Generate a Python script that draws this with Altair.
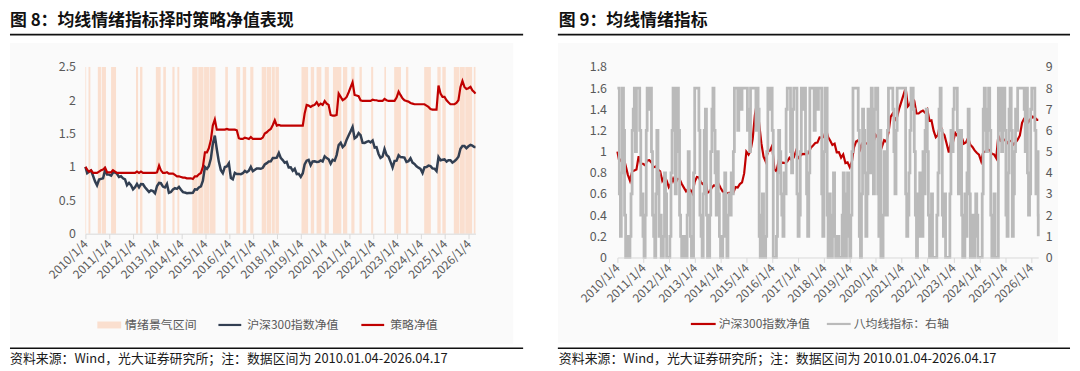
import calendar
import altair as alt
import pandas as pd

FONT = "Noto Sans CJK SC"

# ---------------- data ----------------
tick_years = list(range(2010, 2027))

# 沪深300指数净值: 2010-01-04, then month-end values 2010-01 ... 2026-03, last 2026-04-17
hs300_nav = [1.000,
    0.906, 0.928, 0.947, 0.868, 0.783, 0.725, 0.811, 0.821, 0.830, 0.956, 0.885, 0.885,
    0.870, 0.916, 0.919, 0.898, 0.851, 0.861, 0.830, 0.814, 0.725, 0.762, 0.727, 0.664,
    0.697, 0.745, 0.694, 0.743, 0.741, 0.696, 0.660, 0.624, 0.649, 0.638, 0.605, 0.714,
    0.760, 0.756, 0.706, 0.692, 0.745, 0.612, 0.624, 0.662, 0.682, 0.671, 0.700, 0.659,
    0.623, 0.616, 0.607, 0.611, 0.610, 0.612, 0.665, 0.661, 0.693, 0.709, 0.794, 0.999,
    0.971, 1.010, 1.122, 1.343, 1.470, 1.265, 1.080, 0.952, 0.906, 1.000, 1.009, 1.055,
    0.833, 0.814, 0.910, 0.893, 0.896, 0.892, 0.906, 0.941, 0.920, 0.944, 1.001, 0.937,
    0.958, 0.977, 0.978, 0.973, 0.988, 1.037, 1.057, 1.081, 1.085, 1.134, 1.133, 1.140,
    1.209, 1.138, 1.103, 1.063, 1.075, 0.993, 0.995, 0.943, 0.973, 0.892, 0.898, 0.852,
    0.906, 1.038, 1.095, 1.107, 1.027, 1.082, 1.085, 1.075, 1.079, 1.099, 1.083, 1.159,
    1.133, 1.115, 1.049, 1.107, 1.094, 1.178, 1.328, 1.362, 1.298, 1.328, 1.409, 1.474,
    1.540, 1.600, 1.428, 1.449, 1.508, 1.478, 1.361, 1.360, 1.377, 1.388, 1.367, 1.397,
    1.291, 1.296, 1.195, 1.136, 1.157, 1.269, 1.180, 1.154, 1.076, 0.992, 1.090, 1.095,
    1.176, 1.149, 1.146, 1.140, 1.075, 1.087, 1.131, 1.065, 1.044, 1.011, 0.989, 0.971,
    0.910, 0.995, 1.000, 1.020, 1.013, 0.979, 0.974, 0.939, 1.150, 1.101, 1.108, 1.113,
    1.080, 1.101, 1.100, 1.066, 1.086, 1.113, 1.153, 1.272, 1.313, 1.313, 1.280, 1.310,
    1.330, 1.320, 1.300, 1.300]

# 策略净值 (same dates)
strategy_nav = [1.000,
    0.96, 0.93, 0.95, 0.91, 0.91, 0.91, 0.93, 0.95, 0.96, 0.99, 0.92, 0.92,
    0.92, 0.95, 0.93, 0.91, 0.91, 0.91, 0.91, 0.91, 0.91, 0.91, 0.91, 0.91,
    0.91, 0.93, 0.91, 0.93, 0.91, 0.91, 0.91, 0.91, 0.91, 0.91, 0.91, 0.92,
    1.02, 0.95, 0.91, 0.91, 0.92, 0.90, 0.90, 0.90, 0.88, 0.86, 0.86, 0.85,
    0.84, 0.84, 0.83, 0.83, 0.83, 0.82, 0.86, 0.86, 0.89, 0.91, 1.00, 1.22,
    1.22, 1.28, 1.40, 1.62, 1.71, 1.56, 1.56, 1.56, 1.56, 1.56, 1.57, 1.56,
    1.56, 1.56, 1.56, 1.55, 1.43, 1.42, 1.42, 1.44, 1.43, 1.42, 1.45, 1.42,
    1.42, 1.42, 1.42, 1.42, 1.44, 1.50, 1.52, 1.55, 1.57, 1.63, 1.70, 1.62,
    1.63, 1.62, 1.62, 1.62, 1.62, 1.62, 1.62, 1.62, 1.62, 1.62, 1.62, 1.62,
    1.62, 1.80, 1.93, 1.92, 1.90, 1.92, 1.93, 1.97, 1.92, 1.95, 1.93, 1.99,
    1.95, 1.93, 1.78, 1.77, 1.77, 1.78, 2.10, 2.05, 2.00, 2.02, 2.05, 2.12,
    2.20, 2.27, 2.08, 2.07, 2.06, 2.00, 1.99, 1.99, 1.99, 1.99, 1.99, 2.01,
    2.00, 2.00, 1.99, 1.99, 1.99, 2.02, 2.00, 1.99, 1.99, 1.99, 1.99, 2.04,
    2.13, 2.08, 2.03, 2.00, 1.99, 1.98, 1.96, 1.95, 1.94, 1.94, 1.94, 1.94,
    1.94, 1.94, 1.92, 1.90, 1.87, 1.86, 1.86, 1.86, 2.22, 2.10, 2.05, 2.05,
    2.00, 1.97, 1.94, 1.94, 1.94, 1.96, 2.00, 2.20, 2.29, 2.20, 2.17, 2.18,
    2.20, 2.15, 2.12, 2.10]

# 八均线指标 (two readings per month, mid-month and month-end)
ma_signal = [
    8, 3, 1, 4, 8, 6, 2, 0, 0, 1, 0, 1, 3, 6, 7, 8, 5, 8, 8, 8, 6, 2, 3, 1,
    0, 2, 6, 8, 8, 7, 8, 5, 2, 1, 0, 3, 6, 4, 1, 2, 0, 0, 1, 4, 3, 0, 0, 0,
    1, 4, 6, 8, 8, 3, 5, 8, 6, 2, 1, 0, 0, 1, 0, 0, 2, 5, 3, 1, 0, 0, 4, 8,
    8, 8, 8, 6, 2, 1, 0, 3, 6, 7, 2, 0, 0, 2, 5, 7, 8, 6, 4, 2, 5, 3, 1, 0,
    0, 1, 3, 4, 1, 0, 2, 3, 2, 4, 3, 5, 8, 8, 8, 6, 8, 8, 7, 8, 8, 8, 8, 8,
    6, 7, 5, 8, 8, 8, 8, 8, 6, 8, 7, 1, 0, 2, 3, 0, 0, 1, 5, 8, 8, 7, 8, 6,
    0, 0, 0, 1, 4, 6, 5, 3, 2, 1, 4, 3, 7, 8, 8, 8, 5, 4, 7, 8, 8, 8, 3, 1,
    2, 5, 8, 8, 7, 8, 5, 3, 1, 4, 8, 8, 8, 8, 6, 8, 8, 7, 8, 8, 8, 3, 1, 5,
    8, 8, 2, 0, 3, 1, 0, 2, 4, 1, 0, 0, 1, 0, 0, 0, 2, 4, 0, 0, 3, 4, 1, 0,
    2, 5, 8, 8, 8, 8, 8, 6, 1, 0, 3, 7, 6, 4, 1, 3, 7, 6, 4, 8, 5, 3, 7, 8,
    8, 3, 1, 6, 0, 0, 2, 5, 4, 2, 6, 8, 8, 8, 8, 7, 5, 3, 6, 8, 8, 8, 8, 8,
    8, 8, 8, 3, 1, 2, 4, 6, 8, 8, 7, 5, 2, 0, 3, 1, 4, 2, 1, 5, 3, 6, 7, 5,
    2, 0, 1, 3, 0, 0, 0, 0, 2, 4, 7, 8, 6, 2, 1, 3, 0, 0, 0, 0, 3, 6, 5, 7,
    8, 8, 8, 6, 3, 5, 6, 2, 0, 0, 3, 1, 4, 7, 3, 0, 1, 2, 0, 1, 3, 2, 0, 0,
    0, 0, 3, 7, 8, 6, 5, 7, 8, 6, 2, 0, 1, 3, 0, 0, 0, 8, 8, 6, 5, 8, 8, 6,
    2, 1, 4, 7, 8, 6, 1, 3, 5, 7, 6, 8, 8, 8, 8, 8, 8, 7, 5, 8, 4, 2, 3, 7,
    8, 8, 8, 6, 3, 5, 2, 1]

# 情绪景气区间 (start, end)
band_start = [
    "2010-01-04", "2010-02-20", "2010-07-12", "2010-09-09", "2011-01-30",
    "2012-02-14", "2012-04-16", "2012-12-13", "2013-04-05", "2013-08-22",
    "2013-11-06", "2014-06-21", "2014-09-20", "2014-12-18", "2015-03-12",
    "2015-11-06", "2016-04-22", "2016-07-30", "2016-11-21", "2017-05-15",
    "2017-07-28", "2017-10-15", "2017-12-10", "2019-01-11", "2019-06-02",
    "2019-08-29", "2020-01-01", "2020-05-05", "2020-10-05", "2021-02-09",
    "2021-06-13", "2021-12-08", "2022-06-28", "2022-11-24", "2023-05-23",
    "2024-02-25", "2024-09-13", "2024-11-28", "2025-05-22", "2025-08-18",
    "2025-11-12", "2026-03-22"]
band_end = [
    "2010-01-15", "2010-03-20", "2010-08-29", "2010-11-13", "2011-04-16",
    "2012-03-17", "2012-05-22", "2013-02-24", "2013-05-15", "2013-09-24",
    "2013-12-05", "2014-09-10", "2014-12-10", "2015-03-05", "2015-06-10",
    "2015-12-16", "2016-06-20", "2016-09-20", "2017-01-08", "2017-07-20",
    "2017-10-05", "2017-12-01", "2018-02-01", "2019-04-22", "2019-07-23",
    "2019-11-10", "2020-03-03", "2020-09-09", "2020-12-09", "2021-03-29",
    "2021-07-19", "2022-01-08", "2022-07-23", "2023-03-08", "2023-06-28",
    "2024-06-06", "2024-11-02", "2025-01-19", "2025-08-10", "2025-11-05",
    "2026-02-25", "2026-04-17"]

# ---------------- tables ----------------
months = [(y, m) for y in range(2010, 2027) for m in range(1, 13) if (y, m) <= (2026, 4)]


def month_end(y, m):
    if (y, m) == (2026, 4):
        return "2026-04-17"
    return f"{y}-{m:02d}-{calendar.monthrange(y, m)[1]:02d}"


nav_dates = ["2010-01-04"] + [month_end(y, m) for y, m in months]
sig_dates = []
for y, m in months:
    sig_dates.append("2010-01-04" if (y, m) == (2010, 1) else f"{y}-{m:02d}-15")
    sig_dates.append(month_end(y, m))

nav_df = pd.DataFrame({"date": nav_dates, "hs300": hs300_nav, "strategy": strategy_nav})
sig_df = pd.DataFrame({"date": sig_dates, "signal": ma_signal})
band_df = pd.DataFrame({"start": band_start, "end": band_end})

# ---------------- style ----------------
NAVY = "#323f52"
RED = "#c00000"
BAND = "#fadfcf"
GRAY = "#bababa"
LBL = "#595959"
W1, H1 = 393, 168
W2, H2 = 424, 192

one = alt.Data(values=[{"a": 1}])

x_scale = alt.Scale(type="utc", domain=[alt.DateTime(year=2010, month=1, date=4, utc=True),
                                        alt.DateTime(year=2026, month=4, date=17, utc=True)])
x_axis = alt.Axis(values=[alt.DateTime(year=y, month=1, date=4, utc=True) for y in tick_years],
                  labelExpr="utcFormat(datum.value, '%Y/%-m/%-d')", labelAngle=-45, labelAlign="right",
                  labelBaseline="middle", labelFont=FONT, labelFontSize=12, labelColor=LBL,
                  domainColor="#d9d9d9", tickColor="#d9d9d9", tickSize=5, grid=False, title=None,
                  labelPadding=3, labelOverlap=False, labelFlush=False, zindex=1)


def ytick_axis(vals, orient="left", pad=10):
    return alt.Axis(values=vals, labelExpr="'' + datum.value", domain=False, ticks=False, grid=False,
                    labelPadding=pad, labelFontSize=12.5, labelColor=LBL, labelFont=FONT, title=None,
                    orient=orient, zindex=1)


def text_layer(txt, x, y, size, color, bold=False, baseline="middle"):
    return alt.Chart(one).mark_text(text=txt, align="left", baseline=baseline, fontSize=size, font=FONT,
                                    color=color, fontWeight="bold" if bold else "normal").encode(
        x=alt.value(x), y=alt.value(y))


def hline(x1, x2, y, color, width):
    return alt.Chart(one).mark_rule(color=color, strokeWidth=width).encode(
        x=alt.value(x1), x2=alt.value(x2), y=alt.value(y))


def box(x1, x2, y1, y2, color):
    return alt.Chart(one).mark_rect(color=color).encode(
        x=alt.value(x1), x2=alt.value(x2), y=alt.value(y1), y2=alt.value(y2))


SRC = "资料来源：Wind，光大证券研究所；注：数据区间为 2010.01.04-2026.04.17"

# ---------------- left chart ----------------
left_y = alt.Scale(domain=[0, 2.5])
left_yaxis = ytick_axis([0, 0.5, 1, 1.5, 2, 2.5])

bands = alt.Chart(band_df).mark_rect(color=BAND).encode(
    x=alt.X("start:T", scale=x_scale, axis=x_axis), x2="end:T",
    y=alt.value(0), y2=alt.value(H1))
hs_line = alt.Chart(nav_df).mark_line(color=NAVY, strokeWidth=2.5).encode(
    x=alt.X("date:T", scale=x_scale, axis=x_axis),
    y=alt.Y("hs300:Q", scale=left_y, axis=left_yaxis))
st_line = alt.Chart(nav_df).mark_line(color=RED, strokeWidth=2.2).encode(
    x=alt.X("date:T", scale=x_scale, axis=x_axis),
    y=alt.Y("strategy:Q", scale=left_y, axis=left_yaxis))

LEG_Y1 = 260
left = alt.layer(
    box(-76, 431, -24, 279, "#fafafa"),
    bands, hs_line, st_line,
    text_layer("图 8：均线情绪指标择时策略净值表现", -76, -54, 17, "#111111", bold=True, baseline="top"),
    hline(-76, 441, -32.5, "#111111", 1.6),
    box(12, 36, LEG_Y1 - 3.5, LEG_Y1 + 3.5, BAND),
    text_layer("情绪景气区间", 40, LEG_Y1, 12, LBL),
    hline(134, 157, LEG_Y1, NAVY, 2.2),
    text_layer("沪深300指数净值", 163, LEG_Y1, 12, LBL),
    hline(278, 301, LEG_Y1, RED, 2.2),
    text_layer("策略净值", 307, LEG_Y1, 12, LBL),
    hline(-76, 441, 283.5, "#111111", 1.6),
    text_layer(SRC, -76, 294, 13, "#1a1a1a"),
).properties(width=W1, height=H1)

# ---------------- right chart ----------------
red_line = alt.Chart(nav_df).mark_line(color=RED, strokeWidth=2.2).encode(
    x=alt.X("date:T", scale=x_scale, axis=x_axis),
    y=alt.Y("hs300:Q", scale=alt.Scale(domain=[0, 1.8]),
            axis=ytick_axis([0, 0.2, 0.4, 0.6, 0.8, 1, 1.2, 1.4, 1.6, 1.8], "left", 11)))
gray_line = alt.Chart(sig_df).mark_line(color=GRAY, strokeWidth=2.8, interpolate="step-after").encode(
    x=alt.X("date:T", scale=x_scale, axis=x_axis),
    y=alt.Y("signal:Q", scale=alt.Scale(domain=[0, 9]),
            axis=ytick_axis(list(range(10)), "right", 7)))

LEG_Y2 = 259
right = alt.layer(
    box(-60, 444, -24, 278, "#fafafa"),
    red_line, gray_line,
    text_layer("图 9：均线情绪指标", -59, -54, 17, "#111111", bold=True, baseline="top"),
    hline(-60, 456, -32.5, "#111111", 1.6),
    hline(74, 99, LEG_Y2, RED, 2.2),
    text_layer("沪深300指数净值", 102, LEG_Y2, 12, LBL),
    hline(211, 235, LEG_Y2, GRAY, 2.2),
    text_layer("八均线指标：右轴", 238, LEG_Y2, 12, LBL),
    hline(-60, 456, 283.5, "#111111", 1.6),
    text_layer(SRC, -59, 294, 13, "#1a1a1a"),
).resolve_scale(y="independent").properties(width=W2, height=H2)

chart = alt.hconcat(left, right, spacing=31).properties(
    padding={"left": 0, "top": 2, "right": 0, "bottom": 0}
).configure_view(stroke=None).configure(font=FONT)

chart.save("out.html", embed_options={"renderer": "svg", "actions": False})
